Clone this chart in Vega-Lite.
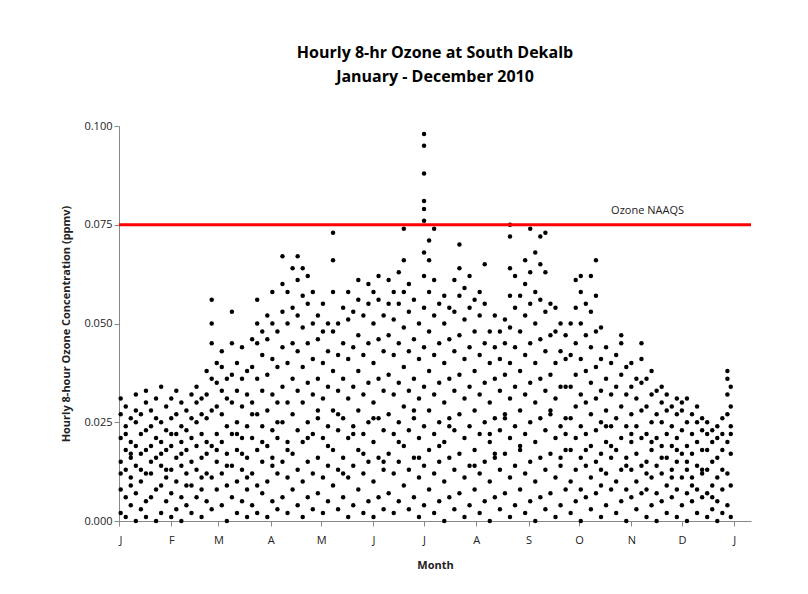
{
  "$schema": "https://vega.github.io/schema/vega-lite/v6.json",
  "width": 632,
  "height": 395,
  "padding": {"left": 60, "top": 45, "right": 5, "bottom": 5},
  "background": "white",
  "config": {"view": {"stroke": null}, "font": "Open Sans"},
  "title": {"text": ["Hourly 8-hr Ozone at South Dekalb", "January - December 2010"], "fontSize": 16, "fontWeight": "bold", "offset": 35, "anchor": "middle", "lineHeight": 24},
  "datasets": {
    "obs": [
      {"d": 1, "v": [0.002, 0.008, 0.015, 0.021, 0.027, 0.031, 0.012]},
      {"d": 4, "v": [0.001, 0.006, 0.013, 0.018, 0.024, 0.029, 0.022]},
      {"d": 7, "v": [0.004, 0.011, 0.016, 0.02, 0.026, 0.017, 0.009]},
      {"d": 10, "v": [0.0, 0.007, 0.014, 0.019, 0.025, 0.028, 0.032]},
      {"d": 13, "v": [0.003, 0.01, 0.017, 0.022, 0.013, 0.027]},
      {"d": 16, "v": [0.001, 0.005, 0.012, 0.018, 0.023, 0.03, 0.033]},
      {"d": 19, "v": [0.006, 0.012, 0.019, 0.024, 0.015, 0.028]},
      {"d": 22, "v": [0.0, 0.008, 0.016, 0.021, 0.026, 0.031]},
      {"d": 25, "v": [0.002, 0.009, 0.014, 0.02, 0.025, 0.034, 0.017]},
      {"d": 28, "v": [0.005, 0.011, 0.018, 0.023, 0.029, 0.013]},
      {"d": 31, "v": [0.001, 0.007, 0.013, 0.019, 0.026, 0.031, 0.022]},
      {"d": 34, "v": [0.003, 0.01, 0.016, 0.022, 0.027, 0.033]},
      {"d": 37, "v": [0.0, 0.006, 0.014, 0.02, 0.024, 0.03, 0.017]},
      {"d": 40, "v": [0.004, 0.012, 0.018, 0.023, 0.028, 0.009]},
      {"d": 43, "v": [0.002, 0.009, 0.015, 0.021, 0.026, 0.032]},
      {"d": 46, "v": [0.006, 0.013, 0.019, 0.025, 0.03, 0.034]},
      {"d": 49, "v": [0.001, 0.008, 0.016, 0.022, 0.027, 0.031, 0.011]},
      {"d": 52, "v": [0.005, 0.012, 0.02, 0.026, 0.032, 0.038, 0.017]},
      {"d": 55, "v": [0.003, 0.011, 0.019, 0.028, 0.036, 0.045, 0.056, 0.05]},
      {"d": 58, "v": [0.008, 0.015, 0.022, 0.029, 0.035, 0.04, 0.018]},
      {"d": 61, "v": [0.004, 0.012, 0.02, 0.027, 0.033, 0.039, 0.043]},
      {"d": 64, "v": [0.0, 0.009, 0.017, 0.024, 0.031, 0.036, 0.014]},
      {"d": 67, "v": [0.006, 0.014, 0.022, 0.03, 0.037, 0.045, 0.053]},
      {"d": 70, "v": [0.002, 0.01, 0.018, 0.025, 0.033, 0.04, 0.022]},
      {"d": 73, "v": [0.005, 0.013, 0.021, 0.029, 0.036, 0.044, 0.017]},
      {"d": 76, "v": [0.001, 0.008, 0.016, 0.024, 0.032, 0.038, 0.011]},
      {"d": 79, "v": [0.004, 0.012, 0.021, 0.03, 0.039, 0.046, 0.027]},
      {"d": 82, "v": [0.002, 0.009, 0.018, 0.027, 0.036, 0.045, 0.05, 0.056]},
      {"d": 85, "v": [0.007, 0.015, 0.024, 0.033, 0.042, 0.048, 0.02]},
      {"d": 88, "v": [0.001, 0.01, 0.019, 0.028, 0.037, 0.046, 0.052]},
      {"d": 91, "v": [0.005, 0.014, 0.023, 0.032, 0.041, 0.05, 0.058, 0.016]},
      {"d": 94, "v": [0.003, 0.012, 0.021, 0.03, 0.039, 0.048, 0.025]},
      {"d": 97, "v": [0.006, 0.015, 0.025, 0.034, 0.044, 0.053, 0.06, 0.067]},
      {"d": 100, "v": [0.002, 0.011, 0.02, 0.03, 0.04, 0.05, 0.058, 0.018]},
      {"d": 103, "v": [0.008, 0.017, 0.027, 0.036, 0.045, 0.054, 0.064]},
      {"d": 106, "v": [0.004, 0.013, 0.023, 0.033, 0.043, 0.052, 0.061, 0.067]},
      {"d": 109, "v": [0.001, 0.01, 0.02, 0.03, 0.039, 0.049, 0.057, 0.064]},
      {"d": 112, "v": [0.006, 0.015, 0.025, 0.035, 0.045, 0.055, 0.062, 0.021]},
      {"d": 115, "v": [0.003, 0.012, 0.022, 0.032, 0.041, 0.05, 0.058]},
      {"d": 118, "v": [0.007, 0.016, 0.026, 0.036, 0.046, 0.052, 0.028]},
      {"d": 121, "v": [0.002, 0.011, 0.021, 0.031, 0.04, 0.048, 0.055]},
      {"d": 124, "v": [0.005, 0.014, 0.024, 0.034, 0.043, 0.05, 0.019]},
      {"d": 127, "v": [0.009, 0.018, 0.028, 0.038, 0.048, 0.058, 0.066, 0.073]},
      {"d": 130, "v": [0.003, 0.013, 0.023, 0.033, 0.042, 0.05, 0.027]},
      {"d": 133, "v": [0.006, 0.016, 0.026, 0.036, 0.045, 0.054, 0.012]},
      {"d": 136, "v": [0.001, 0.011, 0.021, 0.031, 0.041, 0.051, 0.058]},
      {"d": 139, "v": [0.004, 0.014, 0.024, 0.034, 0.044, 0.053, 0.022]},
      {"d": 142, "v": [0.008, 0.018, 0.028, 0.038, 0.047, 0.056, 0.061]},
      {"d": 145, "v": [0.002, 0.012, 0.022, 0.032, 0.042, 0.052, 0.017]},
      {"d": 148, "v": [0.005, 0.015, 0.025, 0.035, 0.045, 0.055, 0.06]},
      {"d": 151, "v": [0.001, 0.01, 0.02, 0.03, 0.04, 0.05, 0.058, 0.026]},
      {"d": 154, "v": [0.006, 0.016, 0.026, 0.036, 0.046, 0.056, 0.062]},
      {"d": 157, "v": [0.003, 0.013, 0.023, 0.033, 0.043, 0.052, 0.015]},
      {"d": 160, "v": [0.007, 0.017, 0.027, 0.037, 0.047, 0.055, 0.061]},
      {"d": 163, "v": [0.002, 0.012, 0.022, 0.032, 0.042, 0.051, 0.058]},
      {"d": 166, "v": [0.005, 0.015, 0.025, 0.035, 0.045, 0.055, 0.063, 0.02]},
      {"d": 169, "v": [0.009, 0.019, 0.029, 0.039, 0.049, 0.058, 0.066, 0.074]},
      {"d": 172, "v": [0.003, 0.013, 0.023, 0.033, 0.043, 0.053, 0.06]},
      {"d": 175, "v": [0.006, 0.016, 0.026, 0.036, 0.046, 0.056, 0.028]},
      {"d": 178, "v": [0.001, 0.011, 0.021, 0.031, 0.041, 0.05, 0.016]},
      {"d": 181, "v": [0.004, 0.014, 0.024, 0.034, 0.044, 0.054, 0.062, 0.068, 0.076, 0.079, 0.081, 0.088, 0.095, 0.098]},
      {"d": 184, "v": [0.008, 0.018, 0.028, 0.038, 0.048, 0.058, 0.066, 0.071]},
      {"d": 187, "v": [0.002, 0.012, 0.022, 0.032, 0.042, 0.052, 0.061, 0.074]},
      {"d": 190, "v": [0.005, 0.015, 0.025, 0.035, 0.045, 0.055, 0.019]},
      {"d": 193, "v": [0.0, 0.01, 0.02, 0.03, 0.04, 0.05, 0.057]},
      {"d": 196, "v": [0.006, 0.016, 0.026, 0.036, 0.046, 0.054, 0.024]},
      {"d": 199, "v": [0.003, 0.013, 0.023, 0.033, 0.043, 0.053, 0.061]},
      {"d": 202, "v": [0.007, 0.017, 0.027, 0.037, 0.047, 0.057, 0.064, 0.07]},
      {"d": 205, "v": [0.001, 0.011, 0.021, 0.031, 0.041, 0.051, 0.059]},
      {"d": 208, "v": [0.004, 0.014, 0.024, 0.034, 0.044, 0.054, 0.062]},
      {"d": 211, "v": [0.008, 0.018, 0.028, 0.038, 0.048, 0.056, 0.014]},
      {"d": 214, "v": [0.002, 0.012, 0.022, 0.032, 0.042, 0.052, 0.058]},
      {"d": 217, "v": [0.005, 0.015, 0.025, 0.035, 0.045, 0.055, 0.065]},
      {"d": 220, "v": [0.0, 0.01, 0.02, 0.03, 0.04, 0.048, 0.022]},
      {"d": 223, "v": [0.006, 0.016, 0.026, 0.036, 0.044, 0.052, 0.017]},
      {"d": 226, "v": [0.003, 0.013, 0.023, 0.033, 0.041, 0.048]},
      {"d": 229, "v": [0.007, 0.017, 0.027, 0.037, 0.045, 0.051, 0.026]},
      {"d": 232, "v": [0.001, 0.011, 0.021, 0.031, 0.04, 0.049, 0.057, 0.064, 0.072, 0.075]},
      {"d": 235, "v": [0.004, 0.014, 0.024, 0.034, 0.044, 0.054, 0.062]},
      {"d": 238, "v": [0.008, 0.018, 0.028, 0.038, 0.048, 0.057, 0.019]},
      {"d": 241, "v": [0.002, 0.012, 0.022, 0.032, 0.042, 0.052, 0.06, 0.066]},
      {"d": 244, "v": [0.005, 0.015, 0.025, 0.035, 0.045, 0.055, 0.063, 0.074]},
      {"d": 247, "v": [0.0, 0.01, 0.02, 0.03, 0.04, 0.05, 0.058, 0.068]},
      {"d": 250, "v": [0.006, 0.016, 0.026, 0.036, 0.046, 0.056, 0.065, 0.072]},
      {"d": 253, "v": [0.003, 0.013, 0.023, 0.033, 0.043, 0.053, 0.063, 0.073]},
      {"d": 256, "v": [0.007, 0.017, 0.027, 0.037, 0.047, 0.055, 0.028]},
      {"d": 259, "v": [0.001, 0.011, 0.021, 0.031, 0.04, 0.048, 0.054]},
      {"d": 262, "v": [0.004, 0.014, 0.024, 0.034, 0.043, 0.05, 0.016]},
      {"d": 265, "v": [0.008, 0.018, 0.026, 0.034, 0.041, 0.047, 0.022]},
      {"d": 268, "v": [0.002, 0.01, 0.018, 0.026, 0.034, 0.042, 0.05]},
      {"d": 271, "v": [0.005, 0.013, 0.021, 0.029, 0.037, 0.045, 0.054, 0.061]},
      {"d": 274, "v": [0.0, 0.008, 0.016, 0.024, 0.032, 0.041, 0.05, 0.058, 0.062]},
      {"d": 277, "v": [0.006, 0.014, 0.022, 0.03, 0.038, 0.047, 0.055, 0.018]},
      {"d": 280, "v": [0.003, 0.011, 0.019, 0.027, 0.035, 0.044, 0.053, 0.062]},
      {"d": 283, "v": [0.007, 0.015, 0.023, 0.031, 0.039, 0.048, 0.057, 0.066]},
      {"d": 286, "v": [0.001, 0.009, 0.017, 0.025, 0.033, 0.041, 0.049, 0.013]},
      {"d": 289, "v": [0.004, 0.012, 0.02, 0.028, 0.036, 0.044, 0.024]},
      {"d": 292, "v": [0.008, 0.016, 0.024, 0.032, 0.04, 0.019]},
      {"d": 295, "v": [0.002, 0.01, 0.018, 0.026, 0.034, 0.042]},
      {"d": 298, "v": [0.005, 0.013, 0.021, 0.029, 0.037, 0.045, 0.047]},
      {"d": 301, "v": [0.0, 0.008, 0.016, 0.024, 0.032, 0.039, 0.014]},
      {"d": 304, "v": [0.006, 0.013, 0.02, 0.027, 0.034, 0.04, 0.022]},
      {"d": 307, "v": [0.003, 0.01, 0.017, 0.024, 0.031, 0.036]},
      {"d": 310, "v": [0.007, 0.014, 0.021, 0.028, 0.035, 0.041, 0.045]},
      {"d": 313, "v": [0.001, 0.008, 0.015, 0.022, 0.029, 0.036, 0.012]},
      {"d": 316, "v": [0.004, 0.011, 0.018, 0.025, 0.032, 0.038, 0.02]},
      {"d": 319, "v": [0.0, 0.007, 0.014, 0.021, 0.027, 0.033]},
      {"d": 322, "v": [0.005, 0.012, 0.019, 0.025, 0.03, 0.034, 0.016]},
      {"d": 325, "v": [0.002, 0.009, 0.016, 0.022, 0.028, 0.032]},
      {"d": 328, "v": [0.006, 0.013, 0.019, 0.024, 0.029, 0.011]},
      {"d": 331, "v": [0.001, 0.008, 0.015, 0.021, 0.027, 0.031, 0.018]},
      {"d": 334, "v": [0.004, 0.011, 0.017, 0.023, 0.028, 0.03]},
      {"d": 337, "v": [0.0, 0.007, 0.013, 0.019, 0.025, 0.031, 0.015]},
      {"d": 340, "v": [0.005, 0.011, 0.017, 0.022, 0.027, 0.009]},
      {"d": 343, "v": [0.002, 0.008, 0.014, 0.02, 0.025, 0.029]},
      {"d": 346, "v": [0.006, 0.012, 0.018, 0.023, 0.026, 0.013]},
      {"d": 349, "v": [0.001, 0.007, 0.013, 0.018, 0.022, 0.025]},
      {"d": 352, "v": [0.003, 0.009, 0.015, 0.02, 0.023, 0.006]},
      {"d": 355, "v": [0.0, 0.005, 0.011, 0.016, 0.021, 0.024]},
      {"d": 358, "v": [0.002, 0.008, 0.013, 0.018, 0.022, 0.026]},
      {"d": 361, "v": [0.004, 0.012, 0.02, 0.027, 0.032, 0.036, 0.038]},
      {"d": 363, "v": [0.001, 0.009, 0.017, 0.024, 0.029, 0.034, 0.022]}
    ],
    "std": [{"y": 0.075, "label": "Ozone NAAQS", "d": 292, "ly": 0.0785}]
  },
  "layer": [
    {
      "data": {"name": "obs"},
      "transform": [{"flatten": ["v"]}],
      "mark": {"type": "circle", "color": "black", "size": 20, "opacity": 1},
      "encoding": {
        "x": {
          "field": "d", "type": "quantitative",
          "scale": {"domain": [0, 375], "nice": false},
          "title": "Month",
          "axis": {
            "values": [0, 31, 59, 90, 120, 151, 181, 212, 243, 273, 304, 334, 365],
            "labelExpr": "['J','F','M','A','M','J','J','A','S','O','N','D','J'][indexof([0,31,59,90,120,151,181,212,243,273,304,334,365], datum.value)]",
            "grid": false, "domainColor": "#888", "tickColor": "#888", "tickSize": 5,
            "labelFontSize": 11, "labelPadding": 8, "titleFontSize": 11, "titleFontWeight": "bold", "titlePadding": 14, "labelColor": "#222", "titleColor": "#222"
          }
        },
        "y": {
          "field": "v", "type": "quantitative",
          "scale": {"domain": [0, 0.1], "nice": false},
          "title": "Hourly 8-hour Ozone Concentration (ppmv)",
          "axis": {
            "values": [0, 0.025, 0.05, 0.075, 0.1], "format": ".3f",
            "grid": false, "domainColor": "#888", "tickColor": "#888", "tickSize": 5,
            "labelFontSize": 11, "titleFontSize": 11, "titleFontWeight": "bold", "titlePadding": 12, "labelColor": "#222", "titleColor": "#222"
          }
        }
      }
    },
    {
      "data": {"name": "std"},
      "mark": {"type": "rule", "color": "#ff0000", "strokeWidth": 3},
      "encoding": {"y": {"field": "y", "type": "quantitative"}}
    },
    {
      "data": {"name": "std"},
      "mark": {"type": "text", "align": "left", "fontSize": 11, "color": "#222"},
      "encoding": {
        "x": {"field": "d", "type": "quantitative"},
        "y": {"field": "ly", "type": "quantitative"},
        "text": {"field": "label"}
      }
    }
  ]
}
